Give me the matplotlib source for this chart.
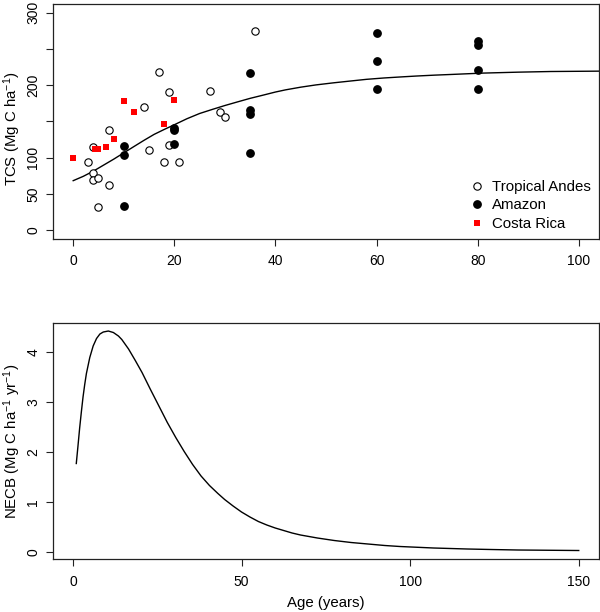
import numpy as np
import matplotlib
matplotlib.use('Agg')
import matplotlib.pyplot as plt
from matplotlib.lines import Line2D

plt.rcParams['font.family'] = ['Liberation Sans', 'DejaVu Sans']
plt.rcParams['mathtext.fontset'] = 'custom'
plt.rcParams['mathtext.rm'] = 'Liberation Sans'
plt.rcParams['mathtext.it'] = 'Liberation Sans:italic'

# ---- 数据 ----
# 热带安第斯（空心圆）
andes_age = [3, 4, 4, 4, 5, 5, 7, 7, 14, 15, 17, 18, 19, 19, 21, 27, 29, 30, 36]
andes_tcs = [93.5, 115.5, 78.5, 69.8, 72.5, 31.5, 138.5, 62, 170.3, 110,
             218.5, 93.8, 191, 117.3, 93.8, 191.5, 163.7, 156, 275.4]

# 亚马逊（实心圆）
amazon_age = [10, 10, 10, 20, 20, 20, 35, 35, 35, 35, 60, 60, 60, 80, 80, 80, 80]
amazon_tcs = [115.9, 103.6, 32.8, 141.4, 138.2, 119.1, 217.1, 166.4, 161, 107,
              272, 233.1, 195.4, 260.3, 255.7, 220.3, 195.4]

# 哥斯达黎加（红色方块）
cr_age = [0, 4.4, 4.9, 6.5, 8, 10, 12, 18, 20]
cr_tcs = [100.1, 112, 112, 115.3, 126.5, 177.8, 163.7, 146.9, 180.2]

# 拟合曲线 TCS
fit_age = [0, 2, 4, 6, 8, 10, 12, 14, 16, 18, 20, 22.5, 25, 27.5, 30, 32.5,
           35, 37.5, 40, 42, 45, 48, 51.5, 55, 58, 61.5, 65, 68, 71.5, 75,
           81, 88, 94.5, 104]
fit_tcs = [68.4, 74.4, 81.6, 89.8, 98, 106.7, 115.4, 124, 132.2, 139, 145.5,
           153.8, 161, 166.6, 172, 177, 181.9, 186.2, 190.6, 193.6, 197.3,
           200.4, 203.3, 205.9, 208.1, 210, 211.5, 212.7, 213.9, 214.9,
           216.7, 218, 218.9, 219.4]

# NECB 曲线
necb_age = [1, 1.5, 2, 2.5, 3, 3.5, 4, 5, 6, 7, 8, 9, 10.5, 12, 13.5, 14.5, 16.5,
            18.5, 20.5, 23, 25.5, 28, 30.5, 33, 35.5, 38, 40.5, 43, 45, 47.5,
            50, 52.5, 55, 57.5, 60, 62.5, 65, 67.5, 72.5, 77.5, 82.5, 87.5,
            92.5, 97, 102, 107, 112, 117, 124, 132, 141, 150]
necb_val = [1.77, 2.12, 2.48, 2.80, 3.10, 3.35, 3.57, 3.89, 4.12, 4.27, 4.36,
            4.40, 4.42, 4.39, 4.32, 4.25, 4.06, 3.83, 3.59, 3.25, 2.92, 2.59,
            2.29, 2.01, 1.75, 1.52, 1.33, 1.17, 1.05, 0.92, 0.80, 0.70, 0.61,
            0.54, 0.48, 0.43, 0.38, 0.34, 0.28, 0.23, 0.19, 0.16, 0.13, 0.11,
            0.095, 0.08, 0.07, 0.06, 0.05, 0.04, 0.035, 0.03]

tcs_ticks = [0, 50, 100, 150, 200, 250, 300]
tcs_ticklabels = ['0', '50', '100', '', '200', '', '300']

FS_TICK = 10
FS_LAB = 10.8


def style_axes(ax):
    for sp in ax.spines.values():
        sp.set_linewidth(0.9)
        sp.set_color('#222222')
    ax.tick_params(direction='out', length=5, width=0.8, labelsize=FS_TICK,
                   color='#222222')
    ax.tick_params(axis='x', pad=6)
    ax.tick_params(axis='y', pad=4)
    plt.setp(ax.get_yticklabels(), rotation=90, va='center')


fig = plt.figure(figsize=(6, 6.12), dpi=100)

# ---- 上图：TCS ----
ax1 = fig.add_axes([0.0883, 0.6095, 0.910, 0.384])
ax1.plot(fit_age, fit_tcs, color='black', lw=1.0, clip_on=True)
ax1.plot(andes_age, andes_tcs, 'o', ms=5.3, mfc='white', mec='black', mew=0.8,
         ls='none')
ax1.plot(amazon_age, amazon_tcs, 'o', ms=5.3, mfc='black', mec='black', ls='none')
ax1.plot(cr_age, cr_tcs, 's', ms=4.1, mfc='#ff0000', mec='#ff0000', mew=0,
         ls='none')
ax1.set_xlim(-4, 104)
ax1.set_ylim(-12, 312)
ax1.set_xticks([0, 20, 40, 60, 80, 100])
ax1.set_yticks(tcs_ticks)
ax1.set_yticklabels(tcs_ticklabels)
ax1.set_ylabel('TCS (Mg C ha$^{-1}$)', fontsize=FS_LAB)
ax1.yaxis.set_label_coords(-0.055, 0.47)
style_axes(ax1)

handles = [
    Line2D([], [], marker='o', ls='none', ms=5.3, mfc='white', mec='black', mew=0.8),
    Line2D([], [], marker='o', ls='none', ms=5.3, mfc='black', mec='black'),
    Line2D([], [], marker='s', ls='none', ms=4.1, mfc='#ff0000', mec='#ff0000', mew=0),
]
ax1.legend(handles, ['Tropical Andes', 'Amazon', 'Costa Rica'], loc='lower right',
           bbox_to_anchor=(1.004, -0.01), frameon=False, fontsize=FS_LAB,
           handlelength=0.8, handletextpad=0.6, labelspacing=0.3, borderpad=0.2)

# ---- 下图：NECB ----
ax2 = fig.add_axes([0.0878, 0.0861, 0.9105, 0.3856])
ax2.plot(necb_age, necb_val, color='black', lw=1.0)
ax2.set_xlim(-6, 156)
ax2.set_ylim(-0.146, 4.574)
ax2.set_xticks([0, 50, 100, 150])
ax2.set_yticks([0, 1, 2, 3, 4])
ax2.set_xlabel('Age (years)', fontsize=FS_LAB, labelpad=5)
ax2.set_ylabel('NECB (Mg C ha$^{-1}$ yr$^{-1}$)', fontsize=FS_LAB)
ax2.yaxis.set_label_coords(-0.055, 0.5)
style_axes(ax2)

fig.savefig('out.png', dpi=100)
